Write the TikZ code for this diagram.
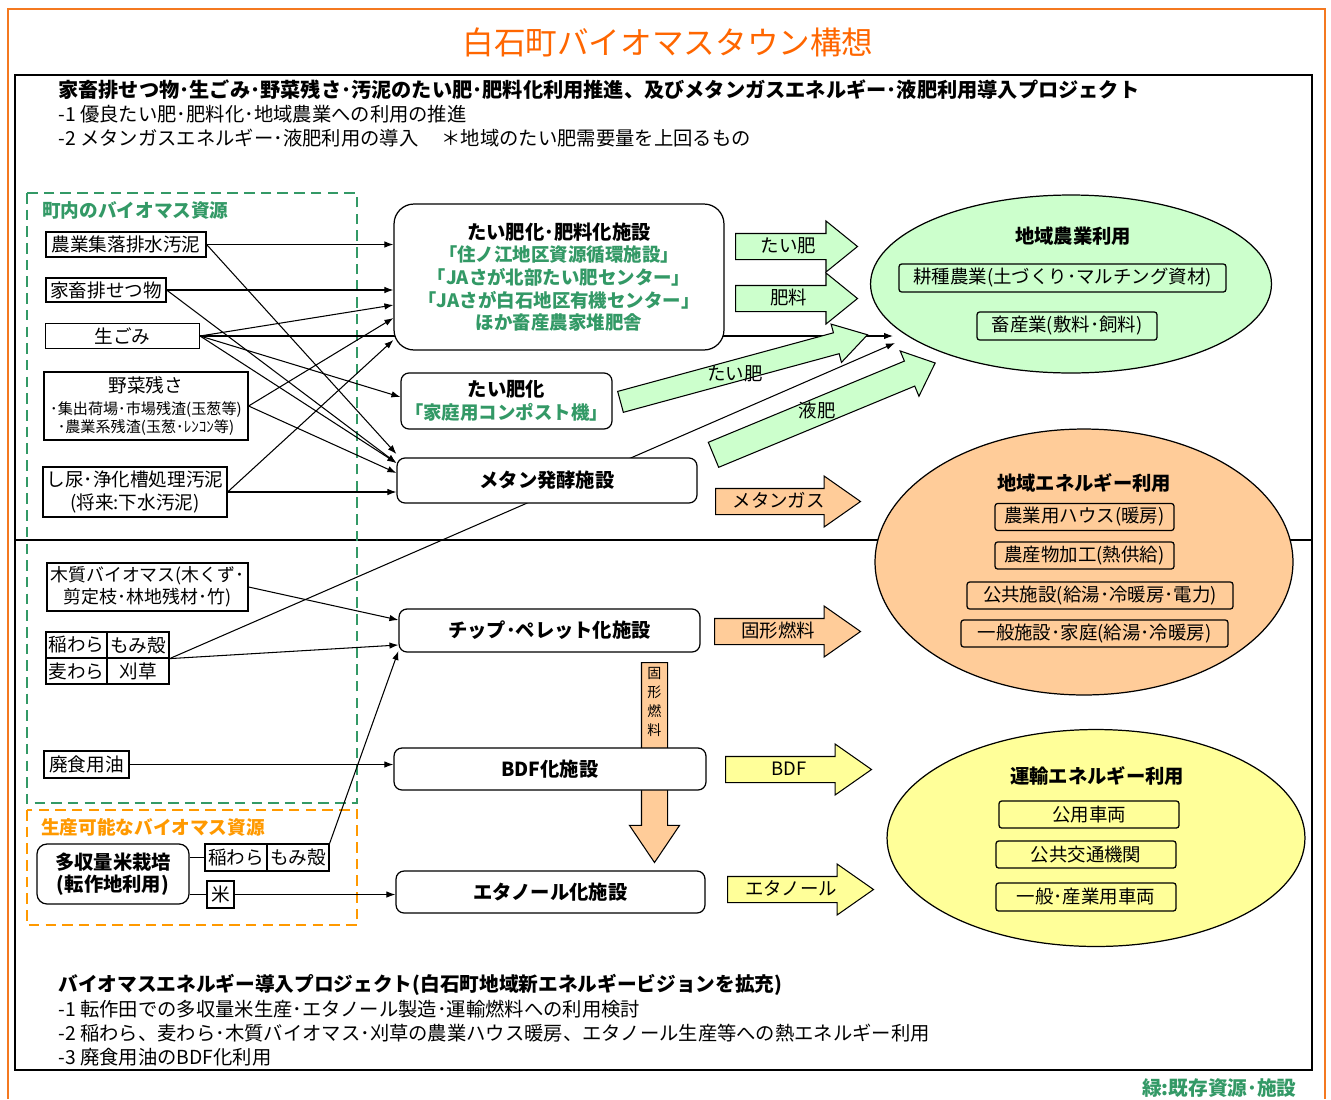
\documentclass[tikz,border=0pt]{standalone}
\usepackage{fontspec}
\setmainfont{Noto Sans CJK JP}
\usetikzlibrary{arrows.meta,shapes.geometric,shapes.arrows,backgrounds}

\definecolor{titleorange}{RGB}{255,102,0}
\definecolor{frameorange}{RGB}{244,121,32}
\definecolor{resgreen}{RGB}{51,153,102}
\definecolor{resorange}{RGB}{255,153,0}
\definecolor{agrigreen}{RGB}{204,255,204}
\definecolor{energyorange}{RGB}{255,204,153}
\definecolor{transyellow}{RGB}{255,255,153}

\newcommand{\jptitle}{\fontsize{18pt}{21pt}\selectfont}
\newcommand{\jphead}{\fontsize{11.2pt}{13pt}\selectfont}
\newcommand{\jpline}{\fontsize{11pt}{13pt}\selectfont}
\newcommand{\jpsrc}{\fontsize{10.6pt}{12.6pt}\selectfont}
\newcommand{\jpnote}{\fontsize{8.6pt}{10.2pt}\selectfont}
\newcommand{\jpfac}{\fontsize{11pt}{12.9pt}\selectfont}
\newcommand{\jpgreen}{\fontsize{10.5pt}{12.9pt}\selectfont}
\newcommand{\jpuse}{\fontsize{10.5pt}{12pt}\selectfont}
\newcommand{\jpvert}{\fontsize{8pt}{10.9pt}\selectfont}

\begin{document}
\begin{tikzpicture}[x=0.02cm, y=-0.02cm,
    txt/.style={anchor=west, inner sep=0pt},
    srcbox/.style={draw, fill=white, line width=0.7pt, inner sep=0pt, align=center, font=\jpsrc},
    facbox/.style={draw, fill=white, line width=0.7pt, rounded corners=1.6mm, inner sep=0pt, align=center, font=\jpfac\bfseries},
    usearea/.style={ellipse, draw, line width=0.7pt, inner sep=0pt},
    usebox/.style={draw, rounded corners=1.5pt, line width=0.7pt, inner sep=0pt, font=\jpuse},
    areatitle/.style={inner sep=0pt, font=\jpfac\bfseries},
    resframe/.style={line width=1.6pt, dash pattern=on 6pt off 3.5pt},
    fatarrow/.style={single arrow, draw, line width=0.6pt, anchor=tail, single arrow head indent=0pt,
        inner xsep=0pt, text height=0.32cm, text depth=0.08cm, inner ysep=0.05cm,
        single arrow head extend=0.25cm, single arrow tip angle=70, font=\jpuse},
    flow/.style={line width=0.6pt, -{Latex[length=1.8mm,width=1.3mm]}}]
\useasboundingbox (0,0) rectangle (1331,1099);

% Title and project texts
\node[font=\jptitle, text=titleorange] (title) at (668,42) {白石町バイオマスタウン構想};
\node[txt, font=\fontsize{11.5pt}{13pt}\selectfont\bfseries] (head1) at (58,90) {家畜排せつ物･生ごみ･野菜残さ･汚泥のたい肥･肥料化利用推進、及びメタンガスエネルギー･液肥利用導入プロジェクト};
\node[txt, font=\jpline] (head2) at (58,114) {-1 優良たい肥･肥料化･地域農業への利用の推進};
\node[txt, font=\jpline] (head3) at (58,138) {-2 メタンガスエネルギー･液肥利用の導入\hspace{1.2em}＊地域のたい肥需要量を上回るもの};
\node[txt, font=\jphead\bfseries] (foot1) at (58,985) {バイオマスエネルギー導入プロジェクト(白石町地域新エネルギービジョンを拡充)};
\node[txt, font=\jpline] (foot2) at (58,1009) {-1 転作田での多収量米生産･エタノール製造･運輸燃料への利用検討};
\node[txt, font=\jpline] (foot3) at (58,1033) {-2 稲わら、麦わら･木質バイオマス･刈草の農業ハウス暖房、エタノール生産等への熱エネルギー利用};
\node[txt, font=\jpline] (foot4) at (58,1057) {-3 廃食用油のBDF化利用};
\node[anchor=east, inner sep=0pt, font=\jphead\bfseries, text=resgreen] (legend) at (1297,1088) {緑:既存資源･施設};

% Biomass resources
\node[txt, font=\jpsrc\bfseries, text=resgreen] (restitle) at (42,210) {町内のバイオマス資源};
\node[txt, font=\jpsrc\bfseries, text=resorange] (prodtitle) at (41,827) {生産可能なバイオマス資源};
\node[srcbox, minimum width=3.2cm, minimum height=0.5cm] (nousyu) at (126,244.5) {農業集落排水汚泥};
\node[srcbox, minimum width=2.4cm, minimum height=0.48cm] (kachiku) at (106,290) {家畜排せつ物};
\node[srcbox, minimum width=3.08cm, minimum height=0.5cm] (gomi) at (122.5,336) {生ごみ};
\node[srcbox, minimum width=4.08cm, minimum height=1.36cm] (yasai) at (146,406)
    {野菜残さ\\\jpnote ･集出荷場･市場残渣(玉葱等)\\[-2.3pt]\jpnote ･農業系残渣(玉葱･ﾚﾝｺﾝ等)};
\node[srcbox, minimum width=3.68cm, minimum height=1.0cm] (shinyo) at (135,492) {し尿･浄化槽処理汚泥\\(将来:下水汚泥)};
\node[srcbox, minimum width=4.02cm, minimum height=0.96cm, font=\fontsize{10.2pt}{12.4pt}\selectfont] (mokushitsu) at (147.5,587) {木質バイオマス(木くず･\\剪定枝･林地残材･竹)};
\node[srcbox, minimum width=1.22cm, minimum height=0.52cm] (ine) at (76.5,645) {稲わら};
\node[srcbox, minimum width=1.24cm, minimum height=0.52cm] (momi) at (138,645) {もみ殻};
\node[srcbox, minimum width=1.22cm, minimum height=0.52cm] (mugi) at (76.5,671) {麦わら};
\node[srcbox, minimum width=1.24cm, minimum height=0.52cm] (karikusa) at (138,671) {刈草};
\node[srcbox, minimum width=1.7cm, minimum height=0.54cm] (haiyu) at (86.5,764.5) {廃食用油};
\node[srcbox, rounded corners=2mm, minimum width=3.04cm, minimum height=1.2cm, font=\jpfac\bfseries] (tashu) at (113,874) {多収量米栽培\\(転作地利用)};
\node[srcbox, minimum width=1.24cm, minimum height=0.54cm] (ine2) at (236,857.5) {稲わら};
\node[srcbox, minimum width=1.24cm, minimum height=0.54cm] (momi2) at (298,857.5) {もみ殻};
\node[srcbox, minimum width=0.54cm, minimum height=0.54cm] (kome) at (220.5,894.5) {米};

% Facilities
\node[facbox, rounded corners=4mm, minimum width=6.6cm, minimum height=2.92cm] (taihi) at (559,277)
    {たい肥化･肥料化施設\\\textcolor{resgreen}{\jpgreen ｢住ノ江地区資源循環施設｣}\\\textcolor{resgreen}{\jpgreen ｢JAさが北部たい肥センター｣}\\\textcolor{resgreen}{\jpgreen ｢JAさが白石地区有機センター｣}\\\textcolor{resgreen}{\jpgreen ほか畜産農家堆肥舎}};
\node[facbox, minimum width=4.22cm, minimum height=1.12cm] (compost) at (506.5,401) {たい肥化\\\textcolor{resgreen}{\jpgreen ｢家庭用コンポスト機｣}};
\node[facbox, minimum width=6.0cm, minimum height=0.9cm] (methane) at (547,480.5) {メタン発酵施設};
\node[facbox, minimum width=6.02cm, minimum height=0.86cm] (chip) at (549.5,630.5) {チップ･ペレット化施設};
\node[facbox, minimum width=6.24cm, minimum height=0.84cm] (bdf) at (550,769) {BDF化施設};
\node[facbox, minimum width=6.18cm, minimum height=0.84cm] (ethanol) at (550.5,892) {エタノール化施設};

% Uses
\node[usearea, fill=agrigreen, minimum width=8.02cm, minimum height=3.56cm] (agri) at (1071,284) {};
\node[areatitle] (agrititle) at (1073,236) {地域農業利用};
\node[usebox, minimum width=6.54cm, minimum height=0.56cm] (kousyu) at (1062.5,278) {耕種農業(土づくり･マルチング資材)};
\node[usebox, minimum width=3.6cm, minimum height=0.56cm] (chikusan) at (1067,326) {畜産業(敷料･飼料)};

\node[usearea, fill=energyorange, minimum width=8.36cm, minimum height=5.32cm] (energy) at (1084,562) {};
\node[areatitle] (energytitle) at (1084,483) {地域エネルギー利用};
\node[usebox, minimum width=3.58cm, minimum height=0.54cm] (house) at (1084.5,517) {農業用ハウス(暖房)};
\node[usebox, minimum width=3.58cm, minimum height=0.54cm] (kakou) at (1084.5,555.5) {農産物加工(熱供給)};
\node[usebox, minimum width=5.32cm, minimum height=0.54cm] (kokyo) at (1100,595.5) {公共施設(給湯･冷暖房･電力)};
\node[usebox, minimum width=5.34cm, minimum height=0.54cm] (ippan) at (1094.5,633.5) {一般施設･家庭(給湯･冷暖房)};

\node[usearea, fill=transyellow, minimum width=8.36cm, minimum height=4.34cm] (trans) at (1096,838) {};
\node[areatitle] (transtitle) at (1097,776) {運輸エネルギー利用};
\node[usebox, minimum width=3.6cm, minimum height=0.54cm] (koyo) at (1089,814.5) {公用車両};
\node[usebox, minimum width=3.6cm, minimum height=0.54cm] (kotsu) at (1086,854.5) {公共交通機関};
\node[usebox, minimum width=3.6cm, minimum height=0.56cm] (sangyo) at (1086,897) {一般･産業用車両};

% Block arrows
\node[fatarrow, fill=agrigreen, single arrow tip angle=78, minimum height=2.44cm] (taihiout) at (735,246.5) {たい肥};
\node[fatarrow, fill=agrigreen, single arrow tip angle=78, minimum height=2.44cm] (hiryo) at (735,298.5) {肥料};
\node[fatarrow, fill=agrigreen, text height=0pt, text depth=0pt, inner ysep=0.206cm, single arrow head extend=0.18cm,
    single arrow tip angle=63, minimum height=5.12cm, rotate=15.2] (taihidiag) at (620,402) {};
\node[fatarrow, fill=agrigreen, text height=0pt, text depth=0pt, inner ysep=0.26cm, single arrow head extend=0.22cm,
    single arrow tip angle=83, minimum height=4.8cm, rotate=22.5] (ekihi) at (713,455) {};
\node[font=\jpuse, inner sep=0pt] (taihidiaglabel) at (735,374) {たい肥};
\node[font=\jpuse, inner sep=0pt] (ekihilabel) at (817,410) {液肥};
\node[fatarrow, fill=energyorange, minimum height=2.9cm] (methanegas) at (715,501.5) {メタンガス};
\node[fatarrow, fill=energyorange, minimum height=2.92cm] (kokei) at (714,631.5) {固形燃料};
\node[fatarrow, fill=transyellow, minimum height=2.92cm] (bdfout) at (725,769.5) {BDF};
\node[fatarrow, fill=transyellow, minimum height=2.92cm] (ethout) at (727,889.5) {エタノール};
\node[align=center, inner sep=0pt, font=\jpvert] (kokeivlabel) at (654.5,702) {固\\形\\燃\\料};

% Connectors
\draw[flow] (nousyu.east) -- (nousyu.east -| taihi.west);
\draw[flow] (kachiku.east) -- (kachiku.east -| taihi.west);
\draw[flow] (gomi.east) -- (taihi.west |- 0,305);
\draw[flow] (yasai.east) -- (taihi.west |- 0,318);
\draw[flow] (shinyo.east) -- (taihi.west |- 0,340);
\draw[flow] (gomi.east) -- (compost.west |- 0,397);
\draw[flow] (nousyu.east) -- (methane.west |- 0,454);
\draw[flow] (kachiku.east) -- (methane.west |- 0,463);
\draw[flow] (gomi.east) -- (methane.west |- 0,463);
\draw[flow] (yasai.east) -- (methane.west |- 0,473);
\draw[flow] (shinyo.east) -- (shinyo.east -| methane.west);
\draw[flow] (mokushitsu.east) -- (chip.west |- 0,620);
\draw[flow] (momi.south east) -- (chip.west |- 0,645);
\draw[flow] (momi2.north east) -- (chip.west |- 0,651);
\draw[flow] (haiyu.east) -- (haiyu.east -| bdf.west);
\draw[flow] (kome.east) -- (kome.east -| ethanol.west);
\draw[line width=0.6pt] (tashu.east |- ine2.west) -- (ine2.west);
\draw[line width=0.6pt] (tashu.east |- kome.west) -- (kome.west);

% Frames and lines behind the boxes
\begin{scope}[on background layer]
  \draw[frameorange, line width=1.5pt] (8,1099) -- (8,9) -- (1325,9) -- (1325,1099);
  \draw[line width=0.9pt] (15,75) rectangle (1312,1070);
  \draw[line width=0.9pt] (15,540) -- (1312,540);
  \draw[resframe, resgreen] (27,193) rectangle (357,803);
  \draw[resframe, resorange] (27,810) rectangle (357,925);
  \coordinate (agriA) at (893,334);
  \coordinate (agriB) at (895,343);
  \draw[flow] (gomi.east) -- (gomi.east -| agriA);
  \draw[flow] (momi.south east) -- (agriB);
  \node[fatarrow, fill=energyorange, text height=0pt, text depth=0pt, inner ysep=0.25cm, single arrow head extend=0.24cm,
      single arrow tip angle=68, minimum height=4cm, rotate=-90] (kokeidown) at (654.5,662) {};
\end{scope}
\end{tikzpicture}
\end{document}
